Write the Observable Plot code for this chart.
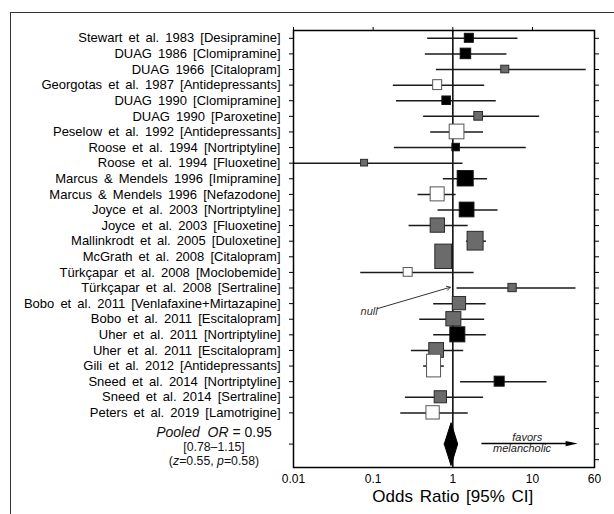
<!DOCTYPE html>
<html>
<head>
<meta charset="utf-8">
<script src="https://cdn.jsdelivr.net/npm/d3@7"></script>
<script src="https://cdn.jsdelivr.net/npm/@observablehq/plot@0.6"></script>
<style>
  html, body { margin: 0; padding: 0; background: #fff; overflow: hidden; }
  #wrap { position: relative; width: 614px; height: 514px; overflow: hidden; font-family: "Liberation Sans", Arial, Helvetica, sans-serif; }
  #outer { position: absolute; left: 10px; top: 12px; width: 700px; height: 600px; border-top: 1.5px solid #333; border-left: 1.5px solid #333; }
  #chart { position: absolute; left: 0; top: 0; }
  .pooled { position: absolute; left: 0; width: 428px; text-align: center; color: #111; white-space: nowrap; }
</style>
</head>
<body>
<div id="wrap">
  <div id="outer"></div>
  <div id="chart"></div>
  <div class="pooled" style="top:424px;font-size:14px;line-height:16px;"><i>Pooled</i>&nbsp; <i>OR</i> = 0.95</div>
  <div class="pooled" style="top:440px;font-size:12.3px;line-height:14px;">[0.78–1.15]</div>
  <div class="pooled" style="top:454px;font-size:12.3px;line-height:14px;">(<i>z</i>=0.55, <i>p</i>=0.58)</div>
</div>
<script>
// ---- data ----
const studies = [
  "Stewart et al. 1983 [Desipramine]",
  "DUAG 1986 [Clomipramine]",
  "DUAG 1966 [Citalopram]",
  "Georgotas et al. 1987 [Antidepressants]",
  "DUAG 1990 [Clomipramine]",
  "DUAG 1990 [Paroxetine]",
  "Peselow et al. 1992 [Antidepressants]",
  "Roose et al. 1994 [Nortriptyline]",
  "Roose et al. 1994 [Fluoxetine]",
  "Marcus & Mendels 1996 [Imipramine]",
  "Marcus & Mendels 1996 [Nefazodone]",
  "Joyce et al. 2003 [Nortriptyline]",
  "Joyce et al. 2003 [Fluoxetine]",
  "Mallinkrodt et al. 2005 [Duloxetine]",
  "McGrath et al. 2008 [Citalopram]",
  "Türkçapar et al. 2008 [Moclobemide]",
  "Türkçapar et al. 2008 [Sertraline]",
  "Bobo et al. 2011 [Venlafaxine+Mirtazapine]",
  "Bobo et al. 2011 [Escitalopram]",
  "Uher et al. 2011 [Nortriptyline]",
  "Uher et al. 2011 [Escitalopram]",
  "Gili et al. 2012 [Antidepressants]",
  "Sneed et al. 2014 [Nortriptyline]",
  "Sneed et al. 2014 [Sertraline]",
  "Peters et al. 2019 [Lamotrigine]"
];
const oddsRatio = [1.61, 1.46, 4.55, 0.645, 0.836, 2.11, 1.13, 1.10, 0.078, 1.45, 0.645, 1.51, 0.648, 1.93, 0.767, 0.275, 5.62, 1.21, 1.03, 1.155, 0.626, 0.581, 3.87, 0.707, 0.565];
const ciLow     = [0.483, 0.452, 0.621, 0.179, 0.196, 0.43, 0.527, 0.185, 0.01, 0.76, 0.366, 0.652, 0.282, 1.485, 0.64, 0.0698, 1.13, 0.575, 0.384, 0.575, 0.302, 0.43, 1.25, 0.254, 0.222];
const ciHigh    = [6.57, 4.78, 47.2, 2.51, 3.51, 12.3, 2.43, 8.35, 1.34, 2.73, 1.10, 3.69, 1.56, 2.64, 0.93, 1.85, 35.1, 2.62, 2.51, 2.63, 1.37, 0.782, 15.2, 2.43, 1.56];
const drugClass = ["TCA","TCA","SSRI","Other","TCA","SSRI","Other","TCA","SSRI","TCA","Other","TCA","SSRI","SSRI","SSRI","Other","SSRI","SSRI","SSRI","TCA","SSRI","Other","TCA","SSRI","Other"];
// relative study weight (box width) and box aspect
const studyWeight = [9, 10.5, 8, 9, 8.5, 8.7, 14.7, 7.5, 7, 16, 14, 14.7, 14.3, 16, 16.7, 9, 8.3, 13.3, 15, 15, 14.7, 14, 10, 12.3, 13.3];
const weightAspect = [1, 1, 0.95, 1.1, 1, 1, 1, 1, 0.95, 0.96, 1, 1, 1, 1.17, 1.46, 0.97, 1, 1, 0.95, 1, 1, 1.62, 1, 0.98, 1];
const pooledOR = 0.95, pooledLow = 0.78, pooledHigh = 1.15;
const pooledRow = 27, totalRows = 28;
const xTicks = [0.01, 0.1, 1, 10, 60];
const xTickLabels = ["0.01", "0.1", "1", "10", "60"];
const xTitle = "Odds Ratio [95% CI]";
// annotations (data units)
const nullNote = {text: "null", x: 0.089, y: 18.5, x1: 0.113, y1: 18.32, x2: 0.93, y2: 16.95};
const favorsLines = ["favors", "melancholic"];
const favorsX = [8.6, 7.4];
const favorsY = [26.6, 27.3];
const favorsArrow = {x1: 2.32, x2: 31, y: 26.97};

// ---- layout ----
const W = 614, H = 514, mL = 293, mR = 20, mT = 30, mB = 47;
const ppd = (W - mL - mR) / Math.log10(xTicks[xTicks.length - 1] / xTicks[0]);
const rowPx = (H - mT - mB) / totalRows;
const classFill = {TCA: "#000000", SSRI: "#6b6b6b", Other: "#ffffff"};
const classStroke = {TCA: "#111111", SSRI: "#2a2a2a", Other: "#555555"};

const data = studies.map((s, i) => ({
  label: s, row: i + 1, or: oddsRatio[i], lo: ciLow[i], hi: ciHigh[i],
  cls: drugClass[i], w: studyWeight[i], h: studyWeight[i] * weightAspect[i]
}));

const diamondH = 1.37;
const diamond = [
  {x: pooledLow, y: pooledRow},
  {x: pooledOR, y: pooledRow - diamondH},
  {x: pooledHigh, y: pooledRow},
  {x: pooledOR, y: pooledRow + diamondH},
  {x: pooledLow, y: pooledRow}
];

const arrowHead = {draw(ctx) { ctx.moveTo(6, 0); ctx.lineTo(-6, -2.7); ctx.lineTo(-6, 2.7); ctx.closePath(); }};

const leftTicks = d3.range(1, studies.length + 1).concat([pooledRow]);
const allRows = d3.range(1, totalRows + 1);

const chart = Plot.plot({
  width: W, height: H,
  marginLeft: mL, marginRight: mR, marginTop: mT, marginBottom: mB,
  style: {fontFamily: '"Liberation Sans", Arial, Helvetica, sans-serif', color: "#000", background: "transparent", overflow: "visible"},
  x: {type: "log", domain: [xTicks[0], xTicks[xTicks.length - 1]]},
  y: {domain: [0.5, totalRows + 0.5], reverse: true},
  color: {type: "identity"},
  marks: [
    Plot.ruleX([1], {stroke: "#000", strokeWidth: 1.5}),
    Plot.ruleY(data, {y: "row", x1: "lo", x2: "hi", stroke: "#1a1a1a", strokeWidth: 1.5}),
    Plot.rect(data, {
      x1: d => d.or * 10 ** (-d.w / 2 / ppd),
      x2: d => d.or * 10 ** (d.w / 2 / ppd),
      y1: d => d.row - d.h / 2 / rowPx,
      y2: d => d.row + d.h / 2 / rowPx,
      fill: d => classFill[d.cls],
      stroke: d => classStroke[d.cls],
      strokeWidth: 1
    }),
    Plot.line(diamond, {x: "x", y: "y", fill: "#000", stroke: "#000", strokeWidth: 1}),
    Plot.arrow([nullNote], {x1: "x1", y1: "y1", x2: "x2", y2: "y2", stroke: "#333", strokeWidth: 1, headLength: 6}),
    Plot.text([nullNote], {x: "x", y: "y", text: "text", fontStyle: "italic", fontSize: 11, fill: "#333"}),
    Plot.ruleY([favorsArrow], {y: "y", x1: "x1", x2: "x2", stroke: "#000", strokeWidth: 1.5}),
    Plot.dot([favorsArrow], {x: "x2", y: "y", symbol: arrowHead, fill: "#000", stroke: null}),
    Plot.text(favorsLines, {x: (d, i) => favorsX[i], y: (d, i) => favorsY[i], text: d => d, fontStyle: "italic", fontSize: 11, fill: "#222"}),
    Plot.frame({stroke: "#000", strokeWidth: 1.5}),
    Plot.axisX(xTicks.slice(0, 4), {anchor: "top", tickSize: 4, tickFormat: () => "", label: null}),
    Plot.text(xTicks, {x: d => d, frameAnchor: "bottom", lineAnchor: "top", dy: 7, text: (d, i) => xTickLabels[i], fontSize: 12}),
    Plot.axisY(leftTicks, {anchor: "left", tickSize: 4, tickPadding: 9, tickFormat: r => studies[r - 1] ?? "", label: null, fontSize: 13}),
    Plot.axisY(allRows, {anchor: "right", tickSize: 4, tickFormat: () => "", label: null}),
    Plot.text([xTitle], {x: 1, frameAnchor: "bottom", lineAnchor: "middle", dy: 29, fontSize: 17})
  ]
});
document.getElementById("chart").appendChild(chart);
d3.select(chart).selectAll("[aria-label='y-axis tick label'] text").style("word-spacing", "2.5px");
d3.select(chart).selectAll("text").filter(function() { return this.textContent === xTitle; }).style("word-spacing", "2px");
</script>
</body>
</html>
